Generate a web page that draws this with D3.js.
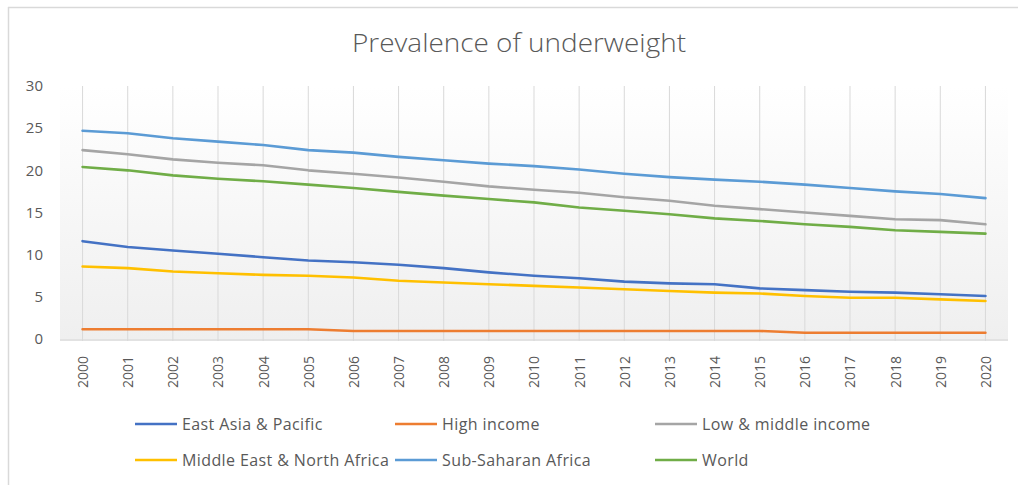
<!DOCTYPE html>
<html>
<head>
<meta charset="utf-8">
<script src="https://cdn.jsdelivr.net/npm/d3@7"></script>
<style>
  body { margin: 0; background: #fff; }
  svg { display: block; font-family: "Open Sans", "Noto Sans", sans-serif; }
</style>
</head>
<body>
<div id="chart"></div>
<script>
// Jahre und Werte
const years = d3.range(2000, 2021).map(String);
const yTicks = [0, 5, 10, 15, 20, 25, 30];

const eastAsiaPacific = [11.6, 10.9, 10.5, 10.1, 9.7, 9.3, 9.1, 8.8, 8.4, 7.9, 7.5, 7.2, 6.8, 6.6, 6.5, 6.0, 5.8, 5.6, 5.5, 5.3, 5.1];
const highIncome = [1.15, 1.15, 1.15, 1.15, 1.15, 1.15, 0.95, 0.95, 0.95, 0.95, 0.95, 0.95, 0.95, 0.95, 0.95, 0.95, 0.75, 0.75, 0.75, 0.75, 0.75];
const lowMiddleIncome = [22.4, 21.9, 21.3, 20.9, 20.6, 20.0, 19.6, 19.15, 18.65, 18.1, 17.7, 17.35, 16.8, 16.4, 15.8, 15.4, 15.0, 14.6, 14.2, 14.1, 13.6];
const middleEastNorthAfrica = [8.6, 8.4, 8.0, 7.8, 7.6, 7.5, 7.3, 6.9, 6.7, 6.5, 6.3, 6.1, 5.9, 5.7, 5.5, 5.4, 5.1, 4.9, 4.9, 4.7, 4.5];
const subSaharanAfrica = [24.7, 24.4, 23.8, 23.4, 23.0, 22.4, 22.1, 21.6, 21.2, 20.8, 20.5, 20.1, 19.6, 19.2, 18.9, 18.65, 18.3, 17.9, 17.5, 17.2, 16.7];
const world = [20.4, 20.0, 19.4, 19.0, 18.7, 18.3, 17.9, 17.45, 17.0, 16.6, 16.2, 15.6, 15.2, 14.8, 14.3, 14.0, 13.6, 13.3, 12.9, 12.7, 12.5];

const seriesNames = ["East Asia & Pacific", "High income", "Low & middle income", "Middle East & North Africa", "Sub-Saharan Africa", "World"];
const seriesColors = ["#4472C4", "#ED7D31", "#A5A5A5", "#FFC000", "#5B9BD5", "#70AD47"];

/**
 * Zeichnet das Liniendiagramm
 */
function drawChart() {
    const width = 1018;
    const height = 485;
    const plot = { left: 60, right: 1008, top: 86, bottom: 339 };

    const series = [eastAsiaPacific, highIncome, lowMiddleIncome, middleEastNorthAfrica, subSaharanAfrica, world]
        .map((values, i) => ({ name: seriesNames[i], color: seriesColors[i], values }));

    const svg = d3.select("#chart")
        .append("svg")
        .attr("width", width)
        .attr("height", height);

    // Rahmen (nur oben und links sichtbar)
    svg.append("line")
        .attr("x1", 8).attr("x2", width).attr("y1", 7.5).attr("y2", 7.5)
        .attr("stroke", "#d9d9d9").attr("stroke-width", 1.5);
    svg.append("line")
        .attr("x1", 8.5).attr("x2", 8.5).attr("y1", 7).attr("y2", height)
        .attr("stroke", "#d9d9d9").attr("stroke-width", 1.5);

    const x = d3.scalePoint()
        .domain(years)
        .range([plot.left, plot.right])
        .padding(0.5);

    const y = d3.scaleLinear()
        .domain([0, 30])
        .range([plot.bottom, plot.top]);

    // Hintergrundverlauf der Zeichenfläche
    const grad = svg.append("defs").append("linearGradient")
        .attr("id", "plotBg")
        .attr("x1", 0).attr("y1", 0).attr("x2", 0).attr("y2", 1);
    grad.append("stop").attr("offset", "0%").attr("stop-color", "#ffffff");
    grad.append("stop").attr("offset", "100%").attr("stop-color", "#efefef");

    svg.append("rect")
        .attr("x", plot.left)
        .attr("y", plot.top)
        .attr("width", plot.right - plot.left)
        .attr("height", plot.bottom - plot.top)
        .attr("fill", "url(#plotBg)");

    // Vertikale Gitterlinien
    svg.append("g")
        .selectAll("line")
        .data(years)
        .enter()
        .append("line")
        .attr("x1", d => x(d)).attr("x2", d => x(d))
        .attr("y1", plot.top).attr("y2", plot.bottom + 2)
        .attr("stroke", "#d9d9d9")
        .attr("stroke-width", 1);

    // x-Achse
    svg.append("line")
        .attr("x1", plot.left).attr("x2", plot.right)
        .attr("y1", plot.bottom + 1).attr("y2", plot.bottom + 1)
        .attr("stroke", "#d9d9d9")
        .attr("stroke-width", 1.5);

    const xAxis = svg.append("g")
        .attr("transform", `translate(0, ${plot.bottom + 12})`)
        .call(d3.axisBottom(x).tickSize(0).tickPadding(0));
    xAxis.select(".domain").remove();
    xAxis.selectAll("text")
        .attr("transform", "rotate(-90)")
        .attr("x", -21)
        .attr("y", 0)
        .attr("dy", "0.35em")
        .style("text-anchor", "middle")
        .style("font-size", "14px")
        .style("font-family", "'Open Sans', sans-serif")
        .attr("fill", "#595959");

    // y-Achse
    const yAxis = svg.append("g")
        .attr("transform", `translate(43, 0)`)
        .call(d3.axisLeft(y).tickValues(yTicks).tickSize(0).tickPadding(0));
    yAxis.select(".domain").remove();
    yAxis.selectAll("text")
        .style("font-size", "15px")
        .style("font-family", "'Open Sans', sans-serif")
        .attr("fill", "#595959");

    // Linien
    const line = d3.line()
        .x((d, i) => x(years[i]))
        .y(d => y(d));

    svg.append("g")
        .selectAll("path")
        .data(series)
        .enter()
        .append("path")
        .attr("d", d => line(d.values))
        .attr("fill", "none")
        .attr("stroke", d => d.color)
        .attr("stroke-width", 2.6)
        .attr("stroke-linejoin", "round")
        .attr("stroke-linecap", "round");

    // Titel
    svg.append("text")
        .attr("x", 519)
        .attr("y", 52)
        .attr("text-anchor", "middle")
        .attr("textLength", 334)
        .attr("lengthAdjust", "spacingAndGlyphs")
        .style("font-size", "26px")
        .style("font-weight", 300)
        .attr("fill", "#595959")
        .text("Prevalence of underweight");

    // Legende: 3 Spalten, 2 Zeilen
    const legendCols = [135, 395, 655];
    const legendRows = [424, 460];

    series.forEach((s, i) => {
        const lx = legendCols[i % 3];
        const ly = legendRows[Math.floor(i / 3)];
        const item = svg.append("g")
            .attr("transform", `translate(${lx}, ${ly})`);

        item.append("line")
            .attr("x1", 0).attr("x2", 42)
            .attr("y1", 0).attr("y2", 0)
            .attr("stroke", s.color)
            .attr("stroke-width", 2.6);

        item.append("text")
            .attr("x", 47)
            .attr("y", 0)
            .attr("dy", "0.35em")
            .style("font-size", "16px")
            .style("letter-spacing", "0.4px")
            .attr("fill", "#595959")
            .text(s.name);
    });
}

drawChart();
</script>
</body>
</html>
